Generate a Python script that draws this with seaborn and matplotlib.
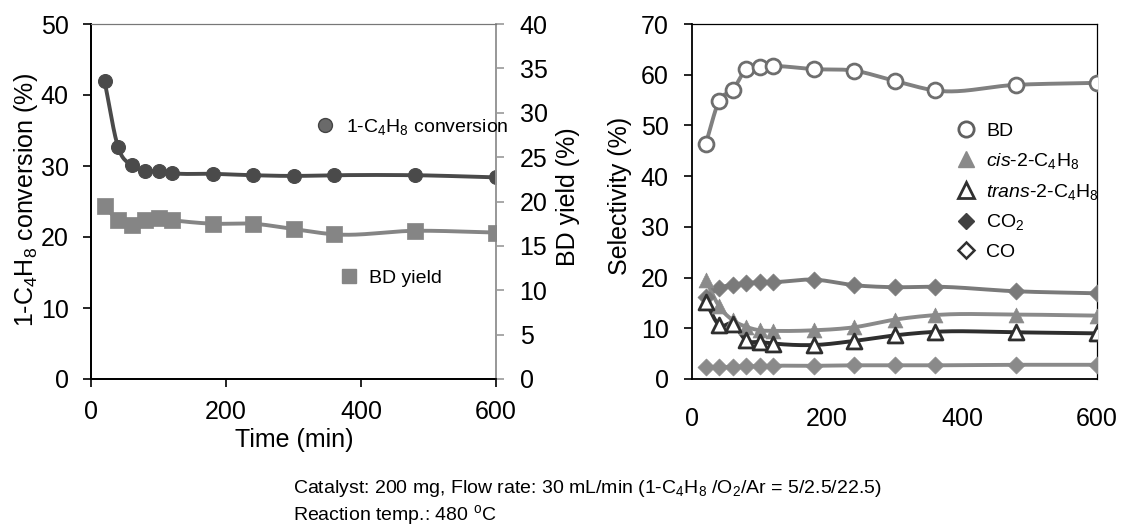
import numpy as np
import pandas as pd
import matplotlib
matplotlib.use("Agg")
import matplotlib.pyplot as plt
from matplotlib.lines import Line2D
import seaborn as sns

# time on stream (min)
time_min = [20, 40, 60, 80, 100, 120, 180, 240, 300, 360, 480, 600]

# left panel
conversion = [42.0, 32.7, 30.1, 29.3, 29.3, 29.0, 28.9, 28.7, 28.6, 28.7, 28.7, 28.4]
bd_yield = [19.5, 17.9, 17.3, 17.9, 18.1, 17.9, 17.5, 17.5, 16.9, 16.3, 16.7, 16.5]

# right panel, selectivity (%)
sel_bd = [46.4, 54.9, 57.0, 61.1, 61.6, 61.7, 61.1, 60.8, 58.8, 56.9, 58.0, 58.4]
sel_cis = [19.5, 14.3, 11.6, 10.3, 9.6, 9.5, 9.6, 10.2, 11.7, 12.6, 12.7, 12.5]
sel_trans = [15.2, 10.6, 10.9, 7.6, 7.3, 7.0, 6.7, 7.5, 8.6, 9.3, 9.2, 9.0]
sel_co2 = [16.2, 17.9, 18.6, 18.9, 19.1, 19.1, 19.6, 18.5, 18.1, 18.2, 17.3, 16.9]
sel_co = [2.3, 2.3, 2.4, 2.5, 2.5, 2.6, 2.6, 2.7, 2.7, 2.7, 2.8, 2.8]


def smooth(x, y, n=400):
    # cubic Hermite curve through the points (like a spreadsheet "smoothed line")
    x = np.asarray(x, float)
    y = np.asarray(y, float)
    m = np.gradient(y, x)
    h = np.diff(x)
    xs = np.linspace(x[0], x[-1], n)
    i = np.clip(np.searchsorted(x, xs) - 1, 0, len(x) - 2)
    t = (xs - x[i]) / h[i]
    h00 = 2 * t**3 - 3 * t**2 + 1
    h10 = t**3 - 2 * t**2 + t
    h01 = -2 * t**3 + 3 * t**2
    h11 = t**3 - t**2
    ys = h00 * y[i] + h10 * h[i] * m[i] + h01 * y[i + 1] + h11 * h[i] * m[i + 1]
    return pd.DataFrame({"x": xs, "y": ys})


sns.set_style("ticks")
plt.rcParams["font.family"] = ["Liberation Sans", "DejaVu Sans"]
plt.rcParams["mathtext.fontset"] = "custom"
plt.rcParams["mathtext.rm"] = "Liberation Sans"
plt.rcParams["mathtext.it"] = "Liberation Sans:italic"
plt.rcParams["mathtext.default"] = "regular"
for k in ("text.color", "axes.labelcolor", "xtick.color", "ytick.color"):
    plt.rcParams[k] = "black"

fig = plt.figure(figsize=(11.21, 5.26), dpi=100)
W, H = 1121, 526
ax1 = fig.add_axes([91 / W, 1 - 379 / H, 405 / W, 355 / H])
ax2 = ax1.twinx()
ax3 = fig.add_axes([692.3 / W, 1 - 379 / H, 404.4 / W, 355 / H])

lw = 2.8
fs_leg = 14
df = pd.DataFrame({"t": time_min, "conv": conversion, "yield": bd_yield,
                   "bd": sel_bd, "cis": sel_cis, "trans": sel_trans,
                   "co2": sel_co2, "co": sel_co})

# ---- left panel
c_conv = "#4a4a4a"
c_yield = "#858585"
sns.lineplot(data=smooth(time_min, conversion), x="x", y="y", ax=ax1,
             color=c_conv, lw=lw, zorder=2)
sns.scatterplot(data=df, x="t", y="conv", ax=ax1, marker="o", s=100,
                color=c_conv, edgecolor=c_conv, linewidth=0.8, zorder=3)
sns.lineplot(data=smooth(time_min, bd_yield), x="x", y="y", ax=ax2,
             color=c_yield, lw=lw, zorder=2)
sns.scatterplot(data=df, x="t", y="yield", ax=ax2, marker="s", s=125,
                color=c_yield, edgecolor=c_yield, linewidth=0.5, zorder=3)

ax1.set_xlim(0, 600)
ax1.set_ylim(0, 50)
ax2.set_ylim(0, 40)
ax1.set_xticks([0, 200, 400, 600])
ax1.set_yticks(range(0, 51, 10))
ax2.set_yticks(range(0, 41, 5))
ax1.set_xlabel("")
ax1.set_ylabel("")
ax2.set_ylabel("")
ax1.tick_params(axis="both", labelsize=18, length=6, width=1.2, direction="out", color="black")
ax1.tick_params(axis="y", pad=10)
ax1.tick_params(axis="x", pad=9)
ax2.tick_params(axis="y", labelsize=18, length=6, width=1.2, color="#999999", pad=11)
for a in (ax1, ax2):
    a.spines["left"].set_color("black")
    a.spines["bottom"].set_color("black")
    a.spines["left"].set_linewidth(1.3)
    a.spines["bottom"].set_linewidth(1.3)
    a.spines["top"].set_color("#777777")
    a.spines["top"].set_linewidth(0.8)
    a.spines["right"].set_color("#999999")
    a.spines["right"].set_linewidth(1.3)

leg_a = ax2.legend(handles=[Line2D([], [], ls="none", marker="o", ms=10, color="#6a6a6a",
                                   mec="#444444", mew=1.0)],
                   labels=["1-C$_4$H$_8$ conversion"], loc="center left",
                   bbox_to_anchor=(0.555, 0.71), frameon=False, fontsize=fs_leg,
                   handlelength=1.0, handletextpad=0.55, borderpad=0, borderaxespad=0)
ax2.add_artist(leg_a)
ax2.legend(handles=[Line2D([], [], ls="none", marker="s", ms=10.5, color="#858585")],
           labels=["BD yield"], loc="center left", bbox_to_anchor=(0.613, 0.285),
           frameon=False, fontsize=fs_leg, handlelength=1.0, handletextpad=0.55,
           borderpad=0, borderaxespad=0)

# ---- right panel
c_bd = "#808080"
c_cis = "#8a8a8a"
c_trans = "#2e2e2e"
c_co2 = "#7a7a7a"
c_co = "#8a8a8a"
sns.lineplot(data=smooth(time_min, sel_bd), x="x", y="y", ax=ax3, color=c_bd, lw=lw, zorder=2)
sns.lineplot(data=smooth(time_min, sel_co2), x="x", y="y", ax=ax3, color=c_co2, lw=lw, zorder=2)
sns.lineplot(data=smooth(time_min, sel_cis), x="x", y="y", ax=ax3, color=c_cis, lw=lw, zorder=2)
sns.lineplot(data=smooth(time_min, sel_trans), x="x", y="y", ax=ax3, color=c_trans, lw=lw, zorder=2)
sns.lineplot(data=smooth(time_min, sel_co), x="x", y="y", ax=ax3, color=c_co, lw=lw, zorder=2)

sns.scatterplot(data=df, x="t", y="bd", ax=ax3, marker="o", s=115, facecolor="white",
                edgecolor="#6e6e6e", linewidth=2.0, zorder=3)
sns.scatterplot(data=df, x="t", y="co2", ax=ax3, marker="D", s=75, color=c_co2,
                edgecolor=c_co2, linewidth=0.5, zorder=3)
sns.scatterplot(data=df, x="t", y="cis", ax=ax3, marker="^", s=115, color=c_cis,
                edgecolor=c_cis, linewidth=0.5, zorder=3)
sns.scatterplot(data=df, x="t", y="trans", ax=ax3, marker="^", s=115, facecolor="white",
                edgecolor=c_trans, linewidth=2.0, zorder=4)
sns.scatterplot(data=df, x="t", y="co", ax=ax3, marker="D", s=75, color=c_co,
                edgecolor=c_co, linewidth=0.5, zorder=3)

ax3.set_xlim(0, 600)
ax3.set_ylim(0, 70)
ax3.set_xticks([0, 200, 400, 600])
ax3.set_yticks(range(0, 71, 10))
ax3.set_xlabel("")
ax3.set_ylabel("")
ax3.tick_params(axis="x", labelsize=18, length=0, pad=20)
ax3.tick_params(axis="y", labelsize=18, length=6, width=1.2, pad=11)
for s in ("left", "bottom"):
    ax3.spines[s].set_color("black")
    ax3.spines[s].set_linewidth(1.3)
for s in ("top", "right"):
    ax3.spines[s].set_color("black")
    ax3.spines[s].set_linewidth(0.9)

handles = [
    Line2D([], [], ls="none", marker="o", ms=11, mfc="white", mec="#606060", mew=2.0),
    Line2D([], [], ls="none", marker="^", ms=11, color="#8a8a8a"),
    Line2D([], [], ls="none", marker="^", ms=11, mfc="white", mec="#303030", mew=2.0),
    Line2D([], [], ls="none", marker="D", ms=8.5, color="#404040"),
    Line2D([], [], ls="none", marker="D", ms=8, mfc="white", mec="#303030", mew=1.8),
]
labels = ["BD", "$\\it{cis}$-2-C$_4$H$_8$", "$\\it{trans}$-2-C$_4$H$_8$", "CO$_2$", "CO"]
ax3.legend(handles=handles, labels=labels, loc="upper left", bbox_to_anchor=(0.654, 0.722),
           frameon=False, fontsize=fs_leg, handlelength=1.0, handletextpad=0.5,
           labelspacing=0.55, borderpad=0, borderaxespad=0)

# ---- axis titles and notes
fig.text(26 / W, 1 - 200 / H, "1-C$_4$H$_8$ conversion (%)", rotation=90,
         ha="center", va="center", fontsize=18)
fig.text(568 / W, 1 - 197 / H, "BD yield (%)", rotation=90,
         ha="center", va="center", fontsize=18)
fig.text(620 / W, 1 - 196 / H, "Selectivity (%)", rotation=90,
         ha="center", va="center", fontsize=18)
fig.text(294 / W, 1 - 440 / H, "Time (min)", ha="center", va="center", fontsize=18)
fig.text(292.7 / W, 1 - 492.7 / H,
         "Catalyst: 200 mg, Flow rate: 30 mL/min (1-C$_4$H$_8$ /O$_2$/Ar = 5/2.5/22.5)",
         ha="left", va="baseline", fontsize=14)
fig.text(292.7 / W, 1 - 520 / H, "Reaction temp.: 480 $^{o}$C",
         ha="left", va="baseline", fontsize=14)

fig.savefig("out.png", dpi=100)
